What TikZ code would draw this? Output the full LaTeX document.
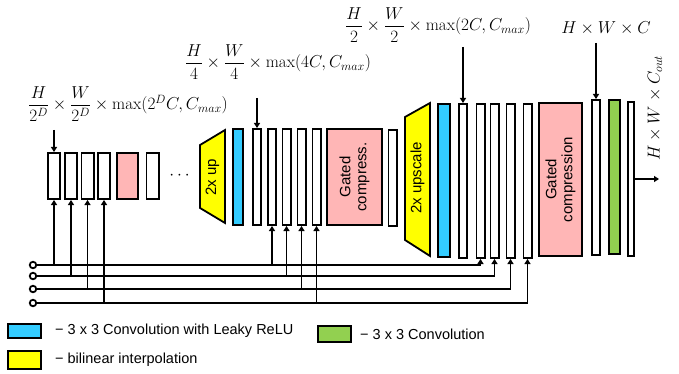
\documentclass[tikz,border=0pt]{standalone}
\usepackage{amsmath}
\usepackage{fontspec}
\newfontfamily\arial{Liberation Sans}
\usetikzlibrary{arrows.meta, positioning}
\definecolor{convblue}{RGB}{51,204,255}
\definecolor{gatepink}{RGB}{255,182,182}
\definecolor{convgreen}{RGB}{146,208,80}
\definecolor{interpyellow}{RGB}{255,255,0}
\tikzset{
  blk/.style={draw, line width=1.8pt, fill=white, inner sep=0pt, minimum width=8.2pt},
  feed/.style={line width=1.8pt, -{Triangle[length=5pt,width=6pt]}},
  tag/.style={font=\fontsize{17}{19}\selectfont, inner sep=0pt},
  lbl/.style={font=\arial\fontsize{15}{16}\selectfont, rotate=90, align=center, inner sep=0pt},
  leg/.style={font=\arial\fontsize{14.5}{16}\selectfont, anchor=west, inner sep=0pt},
  key/.style={draw, line width=1.8pt, minimum width=33.2pt, inner sep=0pt},
}

\begin{document}
\begin{tikzpicture}[x=1pt,y=-1pt]
\useasboundingbox (0,0) rectangle (679,374);

% first level
\foreach \i/\x in {1/54,2/71,3/87.5,4/104,6/152.5} {
    \node[blk, minimum width=12.2pt, minimum height=46.2pt] (a\i) at (\x,176) {};
}
\node[blk, fill=gatepink, minimum width=21.2pt, minimum height=46.2pt] (a5) at (127.5,176) {};
\node[font=\fontsize{17}{18}\selectfont] (dots) at (181,176) {$\cdots$};

% second level
\filldraw[fill=interpyellow, line width=1.8pt] (200,145) -- (225,130) -- (225,223) -- (200,208) -- cycle;
\node[lbl] (up1) at (212.5,177) {2x up};
\node[blk, fill=convblue, minimum width=10.2pt, minimum height=96.2pt] (b0) at (238,177) {};
\foreach \i/\x in {1/257,2/272,3/286.5,4/301.5,5/316.5} {
    \node[blk, minimum height=96.2pt] (b\i) at (\x,177) {};
}
\node[blk, fill=gatepink, minimum width=55.2pt, minimum height=96.2pt] (b6) at (354.5,177) {};
\node[lbl] (g1) at (b6) {Gated\\compress.};
\node[blk, minimum height=96.2pt] (b7) at (392.5,178) {};

% third level
\filldraw[fill=interpyellow, line width=1.8pt] (405,117) -- (430,103) -- (430,256) -- (405,240) -- cycle;
\node[lbl] (up2) at (417.5,178) {2x upscale};
\node[blk, fill=convblue, minimum width=12.7pt, minimum height=153.2pt] (c0) at (444,180.5) {};
\foreach \i/\x in {1/463,2/480.5,3/494.5,4/510.5,5/527.5} {
    \node[blk, minimum height=154.2pt] (c\i) at (\x,181) {};
}
\node[blk, fill=gatepink, minimum width=43.2pt, minimum height=153.2pt] (c6) at (560.5,179.5) {};
\node[lbl] (g2) at (c6) {Gated\\compression};
\node[blk, minimum height=155.2pt] (c7) at (596,177.5) {};
\node[blk, fill=convgreen, minimum width=11.2pt, minimum height=154.2pt] (c8) at (614.5,177) {};
\node[blk, minimum width=6.2pt, minimum height=154.2pt] (c9) at (631,179) {};
\coordinate (out) at (659,179);
\draw[feed] (c9) -- (out);

% sizes
\node[tag] (d1) at (128,104) {$\dfrac{H}{2^D}\times\dfrac{W}{2^D}\times\max(2^D C, C_{max})$};
\node[tag] (d2) at (278,62) {$\dfrac{H}{4}\times\dfrac{W}{4}\times\max(4C, C_{max})$};
\node[tag] (d3) at (438,25) {$\dfrac{H}{2}\times\dfrac{W}{2}\times\max(2C, C_{max})$};
\node[tag] (d4) at (606,28) {$H\times W\times C$};
\node[tag, rotate=90] (d5) at (655,108) {$H\times W\times C_{out}$};
\foreach \p/\x/\y in {a1/54/130, b1/257/98, c1/463/47, c7/596/43} {
    \coordinate (t\p) at (\x,\y);
    \draw[feed] (t\p) -- (\p);
}

% inputs
\foreach \j/\y in {1/265,2/276,3/289,4/303} {
    \node[circle, draw, line width=1.8pt, minimum size=6.5pt, inner sep=0pt] (s\j) at (33,\y) {};
}
\foreach \j/\p/\q/\r in {1/a1/b2/c2, 2/a2/b3/c3, 3/a3/b4/c4, 4/a4/b5/c5} {
    \draw[feed] (s\j) -| (\p);
    \draw[feed] (s\j) -| (\q);
    \draw[feed] (s\j) -| (\r);
}

% legend
\node[key, fill=convblue, minimum height=14.2pt] (k1) at (24.5,331) {};
\node[leg, right=13pt of k1] (l1) {− 3 x 3 Convolution with Leaky ReLU};
\node[key, fill=convgreen, minimum height=16.2pt] (k2) at (334.5,334) {};
\node[leg, right=8pt of k2] (l2) {− 3 x 3 Convolution};
\node[key, fill=interpyellow, minimum height=18.2pt] (k3) at (24.5,360) {};
\node[leg, right=13pt of k3] (l3) {− bilinear interpolation};
\end{tikzpicture}
\end{document}
